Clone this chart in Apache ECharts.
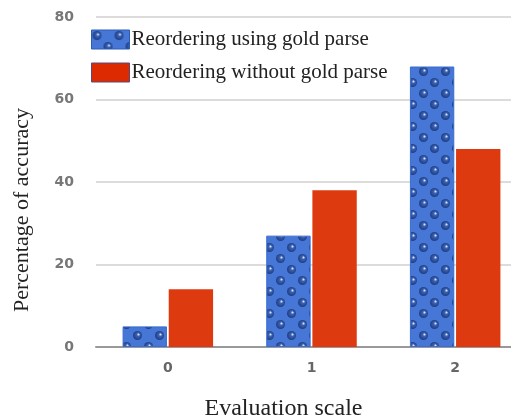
<!DOCTYPE html>
<html><head><meta charset="utf-8">
<script src="https://cdn.jsdelivr.net/npm/echarts@6/dist/echarts.min.js"></script>
<style>html,body{margin:0;padding:0;background:#fff}#c{width:511px;height:417px}</style>
</head><body><div id="c"></div>
<script>
var categories = ['0', '1', '2'];
var goldParse = [5, 27, 68];
var noGoldParse = [14, 38, 48];
var seriesNames = ['Reordering using gold parse', 'Reordering without gold parse'];

function makePattern() {
  var c = document.createElement('canvas');
  c.width = 22; c.height = 22;
  var g = c.getContext('2d');
  g.fillStyle = '#4677d6';
  g.fillRect(0, 0, 22, 22);
  var dots = [[5.5, 5.5], [16.5, 16.5], [16.5, -5.5], [-5.5, 16.5], [27.5, 5.5], [5.5, 27.5]];
  dots.forEach(function (d) {
    var grd = g.createRadialGradient(d[0] + 1.2, d[1] - 1.2, 0.3, d[0], d[1], 4.8);
    grd.addColorStop(0, '#dbe5f8');
    grd.addColorStop(0.3, '#3a62b2');
    grd.addColorStop(1, '#1c3a80');
    g.fillStyle = grd;
    g.beginPath(); g.arc(d[0], d[1], 4.5, 0, Math.PI * 2); g.fill();
  });
  return c;
}
var pat = makePattern();

var chart = echarts.init(document.getElementById('c'), null, {renderer: 'canvas'});
chart.setOption({
  animation: false,
  backgroundColor: '#fff',
  grid: {left: 96, top: 17, width: 431, height: 330, containLabel: false, outerBoundsMode: 'none'},
  legend: {
    orient: 'vertical', left: 86, top: 24, itemWidth: 38, itemHeight: 19, itemGap: 12,
    icon: 'rect',
    textStyle: {fontFamily: 'Liberation Serif', fontSize: 21, color: '#222', padding: [0, 0, 0, -3]},
    data: [
      {name: seriesNames[0], icon: 'rect', itemStyle: {color: {image: pat, repeat: 'repeat'}, borderColor: '#2d5cb8', borderWidth: 1}},
      {name: seriesNames[1], icon: 'rect', itemStyle: {color: '#dd2a00', borderColor: '#5a4a7a', borderWidth: 1}}
    ]
  },
  xAxis: {
    type: 'category', data: categories,
    name: 'Evaluation scale', nameLocation: 'middle', nameGap: 50,
    nameTextStyle: {fontFamily: 'Liberation Serif', fontSize: 24, color: '#222', padding: [0, 56, 0, 0]},
    axisLine: {lineStyle: {color: '#999', width: 2}},
    axisTick: {show: false},
    axisLabel: {fontFamily: 'DejaVu Sans', fontSize: 14, color: '#666', margin: 14, fontWeight: 'bold'}
  },
  yAxis: {
    type: 'value', min: 0, max: 80, interval: 20,
    name: 'Percentage of accuracy', nameLocation: 'middle', nameGap: 63,
    nameTextStyle: {fontFamily: 'Liberation Serif', fontSize: 22, color: '#222', padding: [0, 56, 0, 0]},
    axisLine: {show: false}, axisTick: {show: false},
    axisLabel: {fontFamily: 'DejaVu Sans', fontSize: 14, color: '#777', margin: 22, fontWeight: 'bold'},
    splitLine: {lineStyle: {color: '#dcdcdc', width: 2}}
  },
  series: [
    {name: seriesNames[0], type: 'bar', data: goldParse, barCategoryGap: '37%', barGap: '4%',
     itemStyle: {color: {image: pat, repeat: 'repeat'}, borderColor: '#3a6bd0', borderWidth: 1}},
    {name: seriesNames[1], type: 'bar', data: noGoldParse,
     itemStyle: {color: '#dd3a10'}}
  ]
});
</script></body></html>
